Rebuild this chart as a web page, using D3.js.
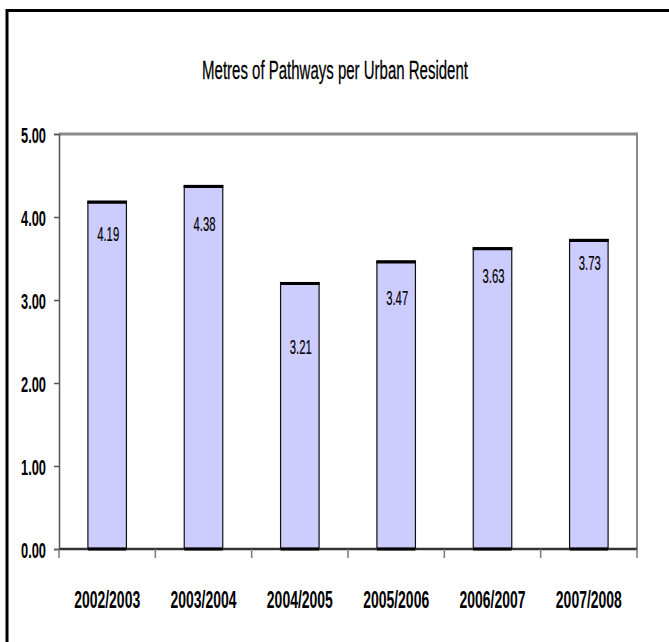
<!DOCTYPE html>
<html><head><meta charset="utf-8">
<script src="https://cdn.jsdelivr.net/npm/d3@7"></script>
<style>body{margin:0;background:#fff}svg{display:block}</style>
</head><body>
<svg id="c" width="669" height="642"></svg>
<script>
const title = "Metres of Pathways per Urban Resident";
const categories = ["2002/2003","2003/2004","2004/2005","2005/2006","2006/2007","2007/2008"];
const values = [4.19, 4.38, 3.21, 3.47, 3.63, 3.73];
const yTicks = [0,1,2,3,4,5];
const labelDrop = [32, 38, 64, 36, 28, 23]; // label placement below bar top (style)

const svg = d3.select("#c");
const font = "'Liberation Sans',Arial,sans-serif";

// squeeze a text horizontally to a target width, anchored at (ax, ay)
function squeeze(sel, ax, ay, width, anchor) {
  sel.each(function(d,i){
    const t = d3.select(this);
    const px = typeof ax === "function" ? ax(d,i) : ax;
    const py = typeof ay === "function" ? ay(d,i) : ay;
    t.attr("x",0).attr("y",0).attr("text-anchor",anchor);
    const len = this.getComputedTextLength();
    const w = typeof width === "function" ? width(d,i) : width;
    t.attr("transform",`translate(${px},${py}) scale(${w/len},1)`);
  });
}

// outer chart border
svg.append("rect").attr("x",7).attr("y",10.5).attr("width",700).attr("height",700)
  .attr("fill","#fff").attr("stroke","#000").attr("stroke-width",3);

const L=59, R=637, T=134, B=549;
const x = d3.scaleBand().domain(categories).range([L,R]).paddingInner(0.6).paddingOuter(0.3);
const xb = d3.scaleBand().domain(categories).range([L,R]);
const y = d3.scaleLinear().domain([0,5]).range([B,T]);

// title
svg.append("text").attr("font-family",font).attr("font-size",26).attr("fill","#000")
  .attr("stroke","#000").attr("stroke-width",0.3).text(title)
  .call(s=>squeeze(s,335,79,266,"middle"));

// plot area top + right border (gray)
svg.append("line").attr("x1",L).attr("x2",R).attr("y1",y(5)).attr("y2",y(5))
  .attr("stroke","#8a8a8a").attr("stroke-width",3);
svg.append("line").attr("x1",R).attr("x2",R).attr("y1",y(5)-1.5).attr("y2",B)
  .attr("stroke","#8a8a8a").attr("stroke-width",2);

// bars
const g = svg.append("g");
g.selectAll("rect.bar").data(values).join("rect").attr("class","bar")
  .attr("x",(d,i)=>x(categories[i])).attr("width",x.bandwidth())
  .attr("y",d=>y(d)).attr("height",d=>B-y(d))
  .attr("fill","#ccccff").attr("stroke","#111").attr("stroke-width",1.2);
g.selectAll("line.top").data(values).join("line").attr("class","top")
  .attr("x1",(d,i)=>x(categories[i])-0.5).attr("x2",(d,i)=>x(categories[i])+x.bandwidth()+0.5)
  .attr("y1",d=>y(d)+1).attr("y2",d=>y(d)+1).attr("stroke","#000").attr("stroke-width",3);

// y axis
const yAxis = d3.axisLeft(y).tickValues(yTicks).tickFormat(d3.format(".2f")).tickSize(5).tickPadding(0);
const ya = svg.append("g").attr("transform",`translate(${L},0)`).call(yAxis);
ya.select(".domain").attr("stroke","#555").attr("stroke-width",1.5);
ya.selectAll(".tick line").attr("stroke","#555").attr("stroke-width",1.5);
ya.selectAll(".tick text").attr("dy","0.36em")
  .attr("font-family",font).attr("font-size",23).attr("font-weight","bold").attr("fill","#000")
  .call(s=>squeeze(s,-13,0,25,"end"));

// x axis
const xAxis = d3.axisBottom(xb).tickSize(0).tickPadding(0);
const xa = svg.append("g").attr("transform",`translate(0,${B})`).call(xAxis);
xa.select(".domain").remove();
xa.append("line").attr("x1",L).attr("x2",R).attr("stroke","#333").attr("stroke-width",2.5);
xa.selectAll(".tick text").attr("dy",0)
  .attr("font-family",font).attr("font-size",23).attr("font-weight","bold").attr("fill","#000")
  .call(s=>squeeze(s,0,59,66,"middle"));
// boundary ticks
const bounds = categories.map(c=>xb(c)).concat([R]);
xa.selectAll("line.b").data(bounds).join("line").attr("class","b")
  .attr("x1",d=>d).attr("x2",d=>d).attr("y1",0).attr("y2",9)
  .attr("stroke","#777").attr("stroke-width",1.5);
// bar bottoms (thick)
xa.selectAll("line.bb").data(categories).join("line").attr("class","bb")
  .attr("x1",d=>x(d)).attr("x2",d=>x(d)+x.bandwidth()).attr("y1",0).attr("y2",0)
  .attr("stroke","#000").attr("stroke-width",3);

// value labels
svg.selectAll("text.val").data(values).join("text").attr("class","val")
  .attr("dy","0.36em")
  .attr("font-family",font).attr("font-size",21).attr("fill","#000").attr("stroke","#000").attr("stroke-width",0.2)
  .text(d=>d3.format(".2f")(d))
  .call(s=>squeeze(s,(d,i)=>x(categories[i])+x.bandwidth()/2+1,(d,i)=>y(d)+labelDrop[i],22,"middle"));
</script>
</body></html>
